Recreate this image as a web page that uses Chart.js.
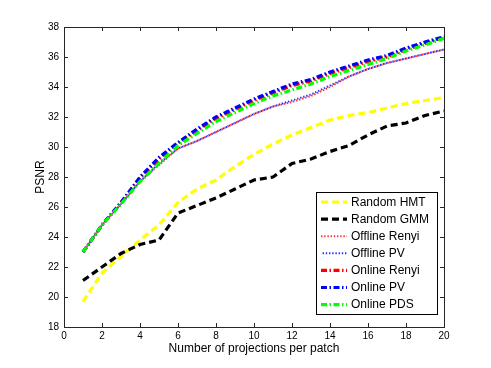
<!DOCTYPE html>
<html>
<head>
<meta charset="utf-8">
<script src="https://cdn.jsdelivr.net/npm/chart.js@4/dist/chart.umd.min.js"></script>
<style>
  html, body { margin: 0; padding: 0; background: #fff; }
  #wrap { width: 491px; height: 368px; }
</style>
</head>
<body>
<div id="wrap"><canvas id="psnrChart" width="491" height="368"></canvas></div>
<script>
// number of projections per patch
const projections = [1, 2, 3, 4, 5, 6, 7, 8, 9, 10, 11, 12, 13, 14, 15, 16, 17, 18, 19, 20];

const randomHMT    = [19.7, 21.6, 22.7, 23.8, 24.8, 26.3, 27.2, 27.8, 28.7, 29.5, 30.2, 30.8, 31.3, 31.8, 32.1, 32.3, 32.6, 32.9, 33.1, 33.3];
const randomGMM    = [21.1, 22.0, 22.9, 23.5, 23.8, 25.6, 26.1, 26.6, 27.2, 27.8, 28.0, 28.9, 29.2, 29.7, 30.1, 30.8, 31.4, 31.6, 32.1, 32.4];
const offlineRenyi = [23.0, 24.8, 26.2, 27.7, 28.8, 29.9, 30.4, 31.0, 31.6, 32.2, 32.7, 33.0, 33.4, 34.0, 34.7, 35.2, 35.6, 35.9, 36.2, 36.5];
const offlinePV    = [23.0, 24.8, 26.2, 27.7, 28.9, 29.9, 30.4, 31.0, 31.6, 32.2, 32.7, 33.1, 33.5, 34.1, 34.7, 35.2, 35.6, 35.9, 36.2, 36.5];
const onlineRenyi  = [23.0, 24.8, 26.3, 27.9, 29.2, 30.2, 31.1, 31.9, 32.5, 33.1, 33.6, 34.1, 34.4, 34.9, 35.3, 35.7, 36.0, 36.5, 36.9, 37.3];
const onlinePV     = [23.0, 24.8, 26.3, 28.0, 29.3, 30.3, 31.2, 32.0, 32.6, 33.2, 33.7, 34.2, 34.5, 35.0, 35.4, 35.8, 36.1, 36.6, 37.0, 37.35];
const onlinePDS    = [23.0, 24.8, 26.2, 27.7, 28.9, 30.1, 30.9, 31.7, 32.3, 32.9, 33.4, 33.8, 34.2, 34.7, 35.1, 35.5, 35.9, 36.4, 36.8, 37.25];

const seriesNames = ['Random HMT', 'Random GMM', 'Offline Renyi', 'Offline PV', 'Online Renyi', 'Online PV', 'Online PDS'];
const seriesData = [randomHMT, randomGMM, offlineRenyi, offlinePV, onlineRenyi, onlinePV, onlinePDS];

const xTicks = [0, 2, 4, 6, 8, 10, 12, 14, 16, 18, 20];
const yTicks = [18, 20, 22, 24, 26, 28, 30, 32, 34, 36, 38];

// matlab-ish line styles
const styles = [
    { color: '#ffff00', width: 3.2, dash: [7, 4], offset: 0 },
    { color: '#000000', width: 3.2, dash: [7, 4], offset: 0 },
    { color: '#ff3030', width: 2, dash: [1.4, 1.8], offset: 0 },
    { color: '#3030ff', width: 2, dash: [1.4, 1.8], offset: 1.6 },
    { color: '#ff0000', width: 3.2, dash: [6, 2.5, 1.5, 2.5], offset: 0 },
    { color: '#0000ff', width: 3.2, dash: [6, 2.5, 1.5, 2.5], offset: 0 },
    { color: '#00ff00', width: 3.2, dash: [6, 2.5, 1.5, 2.5], offset: 0 }
];

const FONT = '"Liberation Sans", Arial, Helvetica, sans-serif';

const datasets = seriesNames.map((name, i) => ({
    label: name,
    data: projections.map((x, j) => ({ x: x, y: seriesData[i][j] })),
    borderColor: styles[i].color,
    backgroundColor: styles[i].color,
    borderWidth: styles[i].width,
    borderDash: styles[i].dash,
    borderDashOffset: styles[i].offset,
    pointRadius: 0,
    tension: 0,
    fill: false,
    order: seriesNames.length - i // later series on top, like matlab
}));

// box + inward ticks + legend box
const matlabAxes = {
    id: 'matlabAxes',
    afterDatasetsDraw(chart) {
        const ctx = chart.ctx;
        const a = chart.chartArea;
        const xs = chart.scales.x, ys = chart.scales.y;
        const tl = 4;
        ctx.save();
        ctx.strokeStyle = '#262626';
        ctx.lineWidth = 1;
        ctx.beginPath();
        xTicks.forEach(v => {
            const px = Math.round(xs.getPixelForValue(v)) + 0.5;
            ctx.moveTo(px, a.bottom); ctx.lineTo(px, a.bottom - tl);
            ctx.moveTo(px, a.top); ctx.lineTo(px, a.top + tl);
        });
        yTicks.forEach(v => {
            const py = Math.round(ys.getPixelForValue(v)) + 0.5;
            ctx.moveTo(a.left, py); ctx.lineTo(a.left + tl, py);
            ctx.moveTo(a.right, py); ctx.lineTo(a.right - tl, py);
        });
        ctx.stroke();
        ctx.strokeRect(Math.round(a.left) + 0.5, Math.round(a.top) + 0.5,
            Math.round(a.right - a.left), Math.round(a.bottom - a.top));
        ctx.restore();
    },
    afterDraw(chart) {
        const ctx = chart.ctx;
        const bx = 316, by = 192, bw = 121, bh = 122;
        const rowH = 17.1;
        ctx.save();
        ctx.fillStyle = '#fff';
        ctx.fillRect(bx, by, bw, bh);
        ctx.strokeStyle = '#000';
        ctx.lineWidth = 1;
        ctx.strokeRect(bx + 0.5, by + 0.5, bw, bh);
        ctx.font = '12px ' + FONT;
        ctx.textBaseline = 'middle';
        chart.data.datasets.forEach((ds, i) => {
            const y = by + 10 + i * rowH;
            ctx.strokeStyle = ds.borderColor;
            ctx.lineWidth = ds.borderWidth;
            ctx.setLineDash(ds.borderDash);
            ctx.lineDashOffset = ds.borderDashOffset;
            ctx.beginPath();
            ctx.moveTo(bx + 5, y);
            ctx.lineTo(bx + 31, y);
            ctx.stroke();
            ctx.setLineDash([]);
            ctx.fillStyle = '#000';
            ctx.fillText(ds.label, bx + 35, y + 0.5);
        });
        ctx.restore();
    }
};

const ctx = document.getElementById('psnrChart').getContext('2d');
new Chart(ctx, {
    type: 'line',
    data: { datasets: datasets },
    plugins: [matlabAxes],
    options: {
        responsive: false,
        animation: false,
        layout: { padding: { left: 0, top: 27, right: 47, bottom: 0 } },
        plugins: {
            legend: { display: false },
            tooltip: { enabled: false }
        },
        scales: {
            x: {
                type: 'linear',
                min: 0,
                max: 20,
                afterFit: s => { s.height = 41; },
                afterBuildTicks: s => { s.ticks = xTicks.map(v => ({ value: v })); },
                grid: { display: false, drawTicks: false },
                border: { display: false },
                ticks: { color: '#000', padding: 3, font: { family: FONT, size: 10 }, maxRotation: 0 },
                title: {
                    display: true,
                    text: 'Number of projections per patch',
                    color: '#000',
                    font: { family: FONT, size: 12 },
                    padding: { top: 0, bottom: 12 }
                }
            },
            y: {
                type: 'linear',
                min: 18,
                max: 38,
                afterFit: s => { s.width = 64; },
                afterBuildTicks: s => { s.ticks = yTicks.map(v => ({ value: v })); },
                grid: { display: false, drawTicks: false },
                border: { display: false },
                ticks: { color: '#000', padding: 5, font: { family: FONT, size: 10 } },
                title: {
                    display: true,
                    text: 'PSNR',
                    color: '#000',
                    font: { family: FONT, size: 12 },
                    padding: { top: 33, bottom: 0 }
                }
            }
        }
    }
});
</script>
</body>
</html>
